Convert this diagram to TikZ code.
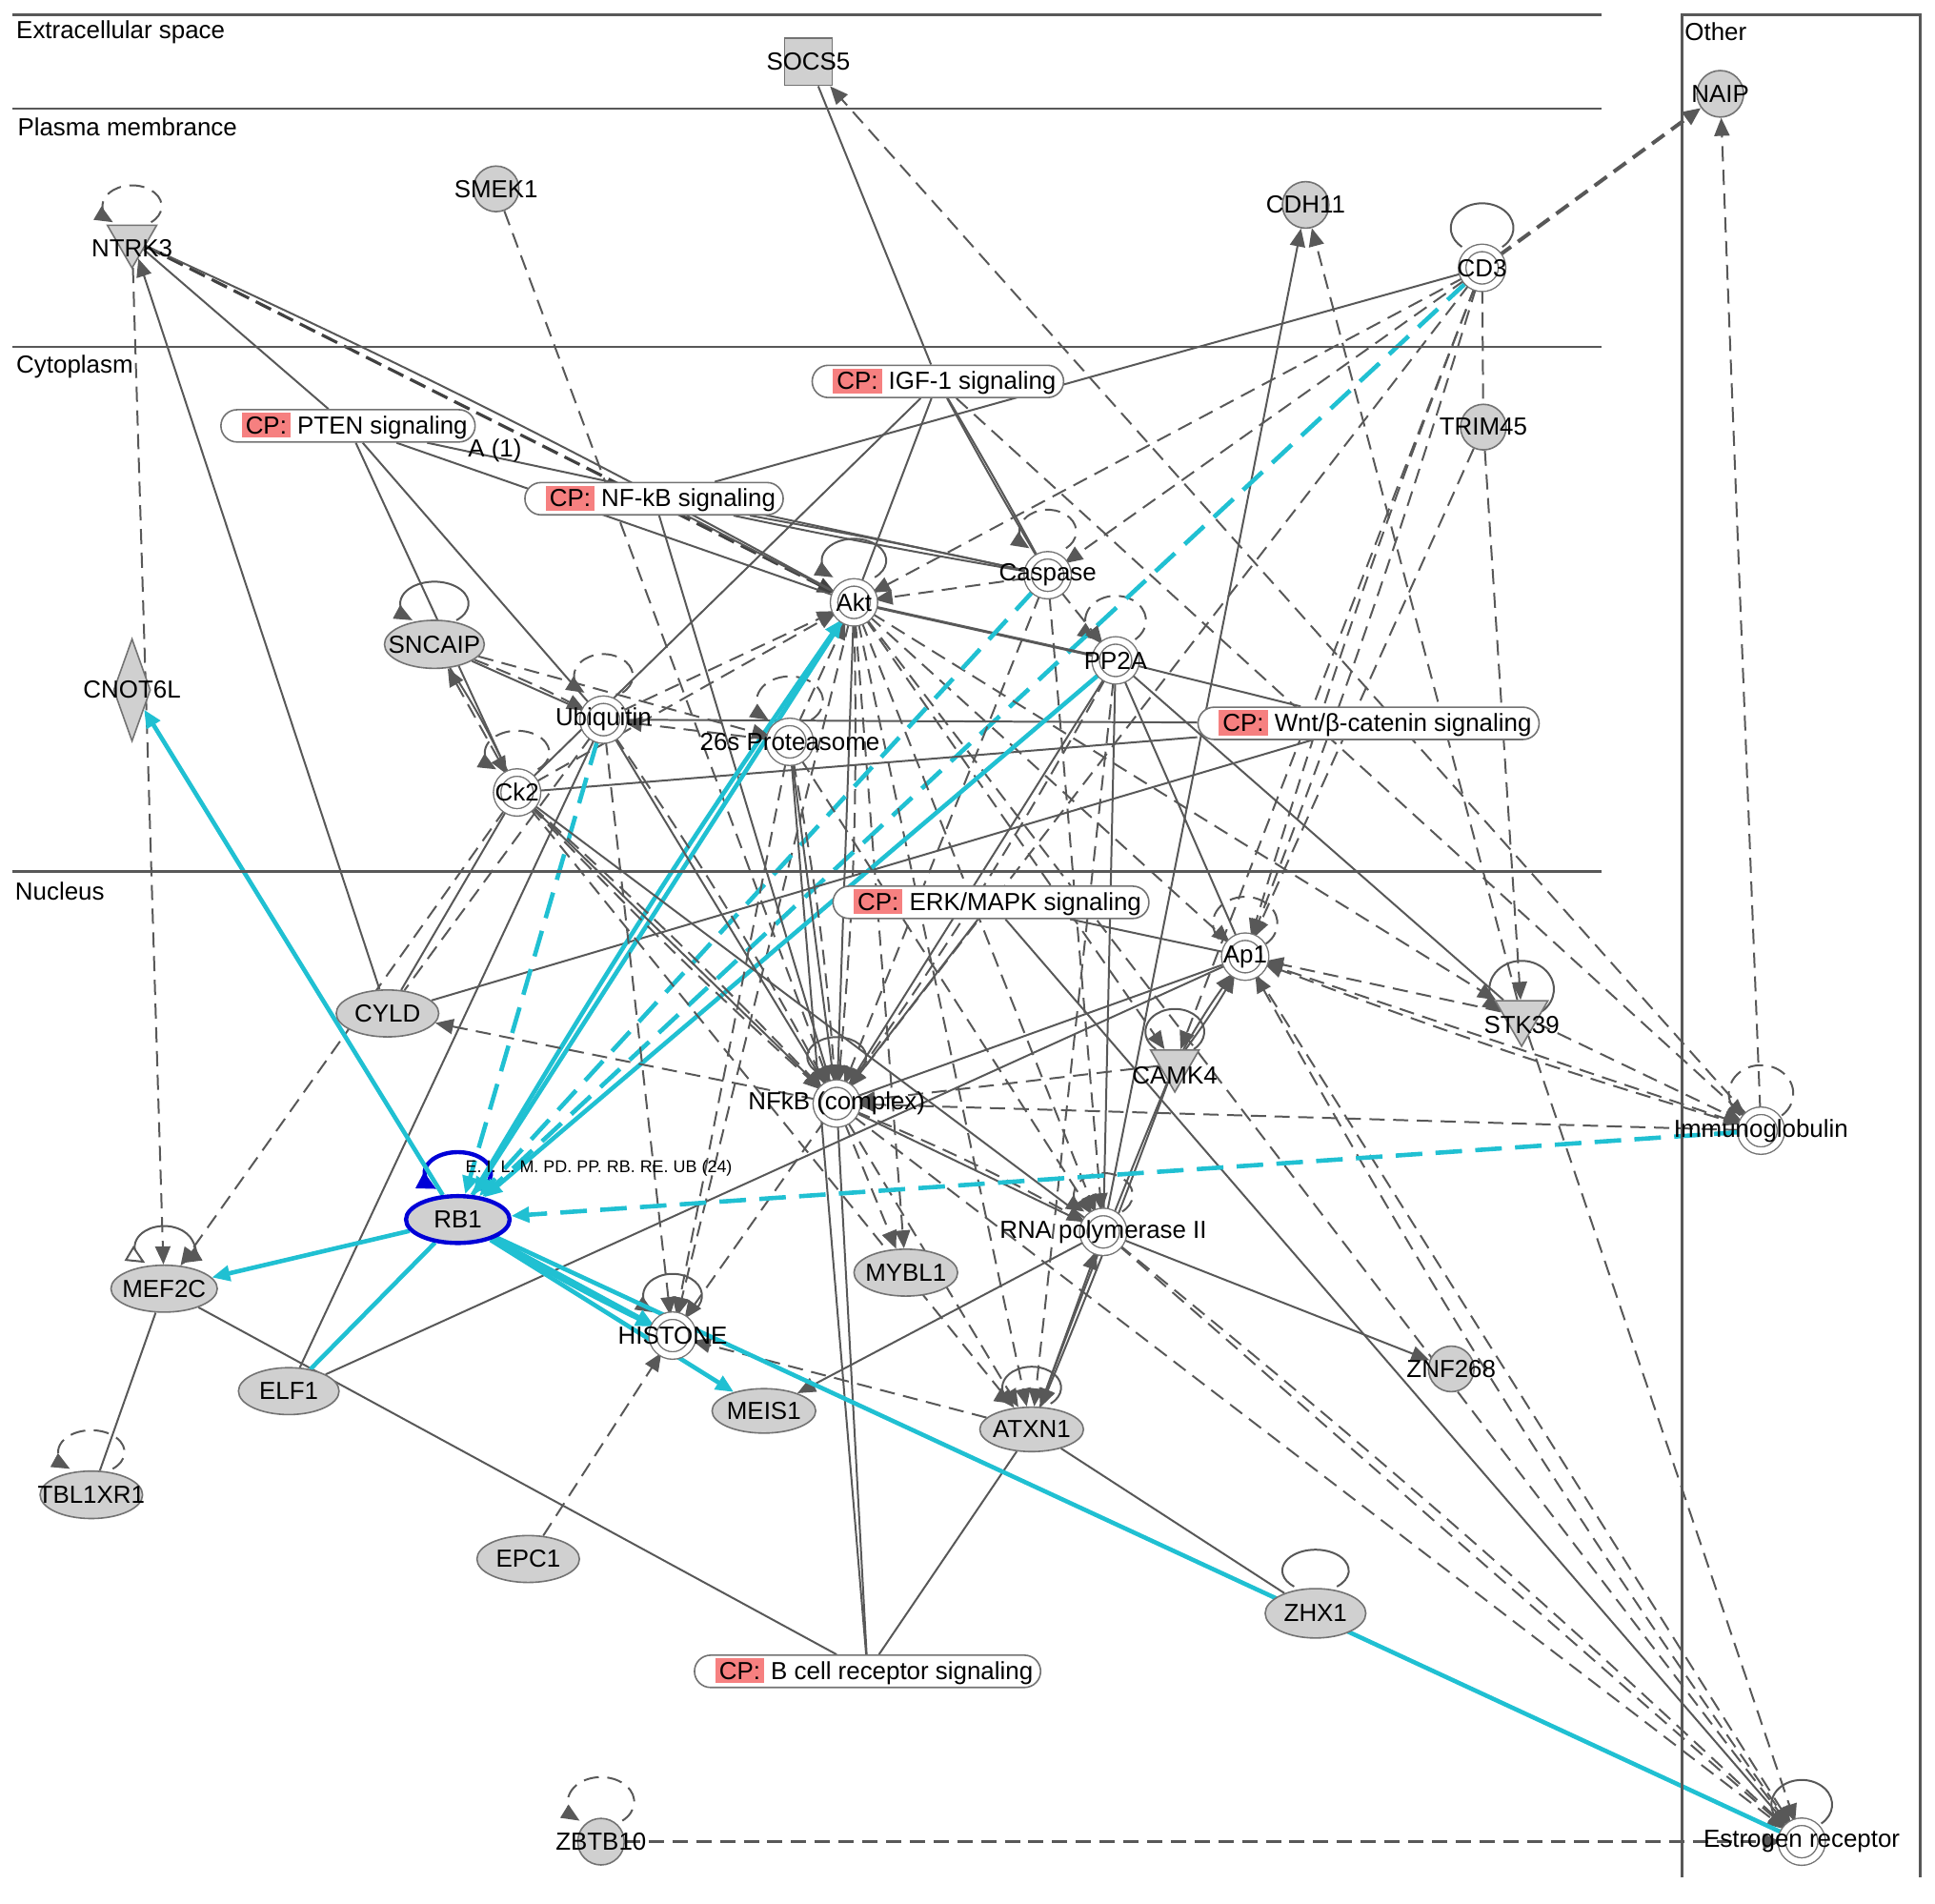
\documentclass[tikz,border=0pt]{standalone}
\usepackage{fontspec}
\setmainfont{Liberation Sans}
\usetikzlibrary{arrows.meta,shapes.geometric}

\definecolor{edgegray}{RGB}{88,88,88}
\definecolor{nodegray}{RGB}{208,208,208}
\definecolor{bordergray}{RGB}{115,115,115}
\definecolor{cyanline}{RGB}{32,192,210}
\definecolor{cpred}{RGB}{246,128,128}
\definecolor{rbblue}{RGB}{0,0,215}

\pgfdeclarelayer{edges}
\pgfsetlayers{edges,main}

\newcommand{\cpbox}{{\setlength{\fboxsep}{2pt}\colorbox{cpred}{CP:}}}
% self loop above a node: [style]{node}{lift}{x radius}{y radius}
\newcommand{\nodeloop}[5][ln]{%
  \draw[#1] ([yshift=#3]#2.center) ++(-50:#4 and #5)
    arc[start angle=-50, end angle=230, x radius=#4, y radius=#5];}

\begin{document}
\begin{tikzpicture}[x=0.65pt, y=-0.65pt, font=\fontsize{13}{15}\selectfont,
    ln/.style={draw=edgegray, line width=1pt},
    dsh/.style={draw=edgegray, line width=1pt, dash pattern=on 8pt off 4.5pt},
    arr/.style={-{Triangle[length=9.5pt,width=8pt]}},
    tarr/.style={{Triangle[length=9.5pt,width=8pt]}-{Triangle[length=9.5pt,width=8pt]}},
    cy/.style={draw=cyanline, line width=2.3pt},
    cyd/.style={draw=cyanline, line width=2.3pt, dash pattern=on 14pt off 7pt},
    gene/.style={ellipse, draw=bordergray, fill=nodegray, line width=0.8pt, inner sep=0pt},
    dot/.style={circle, draw=bordergray, fill=nodegray, line width=0.8pt, inner sep=0pt, minimum size=24.5pt},
    cplx/.style={circle, draw=bordergray, line width=0.7pt, double=white, double distance=3.2pt, fill=white, inner sep=0pt, minimum size=21pt},
    tri/.style={regular polygon, regular polygon sides=3, shape border rotate=180, draw=bordergray, fill=nodegray, line width=0.8pt, inner sep=0pt},
    pill/.style={rectangle, rounded corners=8.5pt, draw=bordergray, line width=0.8pt, fill=white, minimum height=17pt, inner xsep=4pt, inner ysep=0pt},
    partline/.style={draw=edgegray, line width=1.1pt},
    comp/.style={anchor=west, inner sep=0pt},
    mefloop/.style={ln, {Triangle[length=9.5pt,width=8pt]}-{Triangle[open,length=10pt,width=9pt,fill=white]}},
  ]
  \useasboundingbox (0,0) rectangle (1568,1542);

  % Compartments
  \draw[partline] (10,12) -- (1298,12);
  \draw[partline] (10,88) -- (1298,88);
  \draw[partline] (10,281) -- (1298,281);
  \draw[partline] (10,706) -- (1298,706);
  \draw[partline] (1363,1521) -- (1363,12) -- (1556,12) -- (1556,1521);
  \node[comp] (extra) at (13,26) {Extracellular space};
  \node[comp] (plasma) at (14,103) {Plasma membrance};
  \node[comp] (cyto) at (13,297) {Cytoplasm};
  \node[comp] (nucl) at (12,722) {Nucleus};
  \node[comp] (other) at (1365,26) {Other};

  % Extracellular space, plasma membrane, other
  \node[rectangle, draw=bordergray, fill=nodegray, line width=0.8pt, minimum size=25pt, label=center:SOCS5] (SOCS5) at (655,50) {};
  \node[dot, label=center:NAIP] (NAIP) at (1394,76) {};
  \node[dot, minimum size=24pt, label=center:SMEK1] (SMEK1) at (402,153) {};
  \node[tri, minimum size=30pt, label={[yshift=-4.5pt]center:NTRK3}] (NTRK3) at (107,194) {};
  \node[dot, label=center:CDH11] (CDH11) at (1058,166) {};
  \node[cplx, label=center:CD3] (CD3) at (1201,217) {};
  \node[cplx, label=center:Immunoglobulin] (Immuno) at (1427,916) {};
  \node[cplx, label=center:Estrogen receptor] (ER) at (1460,1492) {};

  % Cytoplasm
  \node[dot, minimum size=24pt, label=center:TRIM45] (TRIM45) at (1202,346) {};
  \node[pill] (PTENp) at (282,345) {\hspace{7pt}\cpbox\ PTEN signaling};
  \node[pill] (IGFp) at (760,309) {\hspace{7pt}\cpbox\ IGF-1 signaling};
  \node[pill] (NFkBp) at (530,404) {\hspace{7pt}\cpbox\ NF-kB signaling};
  \node[pill] (Wntp) at (1109,586) {\hspace{7pt}\cpbox\ Wnt/β-catenin signaling};
  \node (aone) at (401,365) {A (1)};
  \node[cplx, label=center:Akt] (Akt) at (692,488) {};
  \node[cplx, label=center:Caspase] (Caspase) at (849,466) {};
  \node[cplx, label=center:PP2A] (PP2A) at (904,535) {};
  \node[cplx, label=center:Ubiquitin] (Ubiquitin) at (489,583) {};
  \node[cplx, label=center:26s Proteasome] (Prot) at (640,601) {};
  \node[cplx, label=center:Ck2] (Ck2) at (419,642) {};
  \node[gene, minimum width=52.6pt, minimum height=25.3pt, label=center:SNCAIP] (SNCAIP) at (352,522) {};
  \node[diamond, draw=bordergray, fill=nodegray, line width=0.8pt, inner sep=0pt, minimum width=19.5pt, minimum height=54pt, label=center:CNOT6L] (CNOT6L) at (107,559) {};

  % Nucleus
  \node[pill] (ERKp) at (803,731) {\hspace{7pt}\cpbox\ ERK/MAPK signaling};
  \node[pill] (BCRp) at (703,1354) {\hspace{7pt}\cpbox\ B cell receptor signaling};
  \node[cplx, label=center:NFkB (complex)] (NFkB) at (678,894) {};
  \node[cplx, label=center:Ap1] (Ap1) at (1009,775) {};
  \node[tri, minimum size=29.5pt, label={[yshift=-6pt]center:CAMK4}] (CAMK4) at (952,862) {};
  \node[tri, minimum size=32pt, label={[yshift=-5pt]center:STK39}] (STK39) at (1233,823) {};
  \node[cplx, label=center:RNA polymerase II] (RNApol) at (894,998) {};
  \node[gene, minimum width=54pt, minimum height=24.7pt, label=center:CYLD] (CYLD) at (314,821) {};
  \node[gene, draw=rbblue, line width=2.2pt, minimum width=54.6pt, minimum height=24.7pt, label=center:RB1] (RB1) at (371,988) {};
  \node[anchor=west, font=\fontsize{9}{10}\selectfont, inner sep=0pt] (rbnote) at (377,946) {E. I. L. M. PD. PP. RB. RE. UB (24)};
  \node[gene, minimum width=56pt, minimum height=24.7pt, label=center:MEF2C] (MEF2C) at (133,1044) {};
  \node[gene, minimum width=53pt, minimum height=24.7pt, label=center:ELF1] (ELF1) at (234,1127) {};
  \node[gene, minimum width=54pt, minimum height=25pt, label=center:TBL1XR1] (TBL1XR1) at (74,1211) {};
  \node[gene, minimum width=54.6pt, minimum height=24.7pt, label=center:MYBL1] (MYBL1) at (734,1031) {};
  \node[cplx, label=center:HISTONE] (HISTONE) at (545,1082) {};
  \node[gene, minimum width=54.6pt, minimum height=23.4pt, label=center:MEIS1] (MEIS1) at (619,1143) {};
  \node[gene, minimum width=54.6pt, minimum height=23.4pt, label=center:ATXN1] (ATXN1) at (836,1158) {};
  \node[dot, minimum size=24pt, label=center:ZNF268] (ZNF268) at (1176,1109) {};
  \node[gene, minimum width=54pt, minimum height=24.7pt, label=center:EPC1] (EPC1) at (428,1263) {};
  \node[gene, minimum width=53pt, minimum height=26pt, label=center:ZHX1] (ZHX1) at (1066,1307) {};
  \node[dot, label=center:ZBTB10] (ZBTB10) at (487,1492) {};

  \begin{pgfonlayer}{edges}
    \fill[white] (0,0) rectangle (1568,1542);

    % self loops
    \nodeloop[dsh,arr]{NTRK3}{17.5pt}{15.6pt}{11pt}
    \nodeloop[ln]{CD3}{21pt}{16.5pt}{13pt}
    \nodeloop[ln,arr]{Akt}{22pt}{17pt}{11.5pt}
    \nodeloop[dsh,arr]{Caspase}{23pt}{15pt}{11.5pt}
    \nodeloop[dsh,arr]{PP2A}{21pt}{16pt}{13pt}
    \nodeloop[dsh,arr]{Prot}{21.5pt}{17.5pt}{13pt}
    \nodeloop[dsh,arr]{Ubiquitin}{23pt}{15.5pt}{11.5pt}
    \nodeloop[dsh,arr]{Ck2}{21pt}{17pt}{11.5pt}
    \nodeloop[ln,arr]{SNCAIP}{21.5pt}{18pt}{11.5pt}
    \nodeloop[ln]{NFkB}{24.5pt}{15.5pt}{10.5pt}
    \nodeloop[ln]{CAMK4}{17pt}{15.5pt}{12pt}
    \nodeloop[ln,arr]{STK39}{14pt}{17pt}{15pt}
    \nodeloop[dsh]{Ap1}{17.5pt}{17pt}{14pt}
    \nodeloop[dsh]{Immuno}{19.5pt}{17pt}{15pt}
    \nodeloop[dsh,arr]{RNApol}{19.5pt}{15.5pt}{11.5pt}
    \nodeloop[ln,arr]{HISTONE}{21pt}{15.5pt}{11.5pt}
    \nodeloop[ln,arr]{ATXN1}{22pt}{15.5pt}{11pt}
    \nodeloop[ln]{ZHX1}{22.5pt}{17.5pt}{11pt}
    \nodeloop[ln]{ER}{19.5pt}{16pt}{13pt}
    \nodeloop[mefloop]{MEF2C}{22pt}{15.5pt}{11pt}
    \nodeloop[dsh,arr]{TBL1XR1}{22.5pt}{17.5pt}{11.5pt}
    \nodeloop[dsh,arr]{ZBTB10}{21pt}{17.5pt}{13pt}
    \nodeloop[draw=rbblue, line width=2.2pt, -{Triangle[length=10pt,width=9pt]}]{RB1}{24.5pt}{17.5pt}{11pt}

    % membrane and extracellular links
    \draw[ln] (SOCS5) -- (IGFp);
    \draw[dsh,arr] (Immuno) -- (SOCS5);
    \draw[ln,arr] (RNApol) -- (CDH11);
    \draw[dsh,arr] (STK39) -- (CDH11);
    \draw[dsh,arr,line width=2pt] (CD3) -- (NAIP);
    \draw[dsh,arr] (Immuno) -- (NAIP);
    \draw[ln] (CD3) -- (NFkBp);
    \draw[cyd,arr] (CD3) -- (RB1);
    \draw[dsh,arr] (CD3) -- (Akt);
    \draw[dsh,arr] (CD3) -- (Caspase);
    \draw[dsh,arr] (CD3) -- (NFkB);
    \draw[dsh,arr] (CD3) to[bend left=2] (Ap1);
    \draw[dsh,arr] (CD3) to[bend right=2] (Ap1);
    \draw[dsh] (CD3) -- (TRIM45);
    \draw[dsh,arr] (CD3) -- (CAMK4);
    \draw[dsh,arr] (SMEK1) -- (NFkB);
    \draw[ln,arr] (CYLD) -- (NTRK3);
    \draw[dsh,arr] (NTRK3) -- (MEF2C);
    \draw[draw=black!75, line width=1.6pt, dash pattern=on 9pt off 4pt, arr] (NTRK3) -- (Akt);
    \draw[ln] (NTRK3) to[bend left=2] (Akt);
    \draw[ln] (NTRK3) -- (PTENp);
    \draw[dsh,arr] (TRIM45) -- (STK39);
    \draw[dsh,arr] (TRIM45) -- (Ap1);

    % canonical pathways
    \draw[ln] (PTENp) -- (Akt);
    \draw[ln] (PTENp) -- (Ubiquitin);
    \draw[ln] (PTENp) -- (Ck2);
    \draw[ln] (PTENp) -- (Caspase);
    \draw[ln] (IGFp) -- (Akt);
    \draw[ln] (IGFp) -- (Ck2);
    \draw[ln] (IGFp) to[bend left=1] (Caspase);
    \draw[ln] (IGFp) to[bend right=1] (Caspase);
    \draw[dsh,arr] (IGFp) -- (Immuno);
    \draw[ln] (NFkBp) to[bend left=1] (Caspase);
    \draw[ln] (NFkBp) to[bend right=1] (Caspase);
    \draw[ln] (NFkBp) -- (Akt);
    \draw[ln] (NFkBp) -- (NFkB);
    \draw[ln] (Wntp) -- (PP2A);
    \draw[ln] (Wntp) -- (Ubiquitin);
    \draw[ln] (Wntp) -- (Ck2);
    \draw[ln] (Wntp) -- (CYLD);
    \draw[ln] (ERKp) -- (Ap1);
    \draw[ln] (ERKp) -- (ER);
    \draw[ln] (ERKp) -- (NFkB);
    \draw[ln] (BCRp) -- (NFkB);
    \draw[ln] (BCRp) -- (Prot);
    \draw[ln] (BCRp) -- (ATXN1);
    \draw[ln] (BCRp) -- (MEF2C);

    % Akt
    \draw[dsh,arr] (Caspase) -- (Akt);
    \draw[ln, line width=1.5pt] (Akt) -- (PP2A);
    \draw[dsh,arr] (Ubiquitin) -- (Akt);
    \draw[dsh,arr] (Ck2) -- (Akt);
    \draw[dsh,arr] (Prot) -- (Akt);
    \draw[ln] (Akt) -- (NFkB);
    \draw[dsh,arr] (Akt) to[bend left=3] (NFkB);
    \draw[dsh,arr] (Akt) -- (Ap1);
    \draw[dsh,arr] (Akt) -- (CAMK4);
    \draw[dsh,arr] (Akt) -- (RNApol);
    \draw[dsh,arr] (Akt) -- (HISTONE);
    \draw[dsh,arr] (Akt) -- (ATXN1);
    \draw[dsh,arr] (Akt) -- (MYBL1);
    \draw[dsh,arr] (Akt) -- (STK39);
    \draw[dsh,arr] (Akt) -- (ER);
    \draw[cy,arr] (Akt) -- (RB1);
    \draw[cy,arr] (RB1) to[bend left=2] (Akt);

    % Caspase and PP2A
    \draw[dsh,arr] (Caspase) -- (PP2A);
    \draw[dsh,arr] (Caspase) -- (NFkB);
    \draw[dsh,arr] (Caspase) -- (RNApol);
    \draw[cyd,arr] (Caspase) -- (RB1);
    \draw[ln] (PP2A) -- (NFkB);
    \draw[dsh,arr] (PP2A) to[bend left=3] (NFkB);
    \draw[ln] (PP2A) -- (Ap1);
    \draw[ln] (PP2A) -- (RNApol);
    \draw[ln] (PP2A) -- (STK39);
    \draw[dsh,arr] (PP2A) -- (ATXN1);
    \draw[cy,arr] (PP2A) -- (RB1);

    % Ubiquitin, 26s Proteasome, Ck2, SNCAIP
    \draw[ln] (SNCAIP) -- (Ubiquitin);
    \draw[dsh,arr] (SNCAIP) to[bend left=3] (Ubiquitin);
    \draw[dsh,arr] (SNCAIP) -- (Prot);
    \draw[dsh,tarr] (SNCAIP) -- (Ck2);
    \draw[ln] (SNCAIP) to[bend left=4] (Ck2);
    \draw[dsh,arr] (Prot) -- (Ubiquitin);
    \draw[cyd,arr] (Ubiquitin) -- (RB1);
    \draw[ln] (Ubiquitin) -- (NFkB);
    \draw[dsh,arr] (Ubiquitin) to[bend left=3] (NFkB);
    \draw[dsh,arr] (Ubiquitin) -- (HISTONE);
    \draw[dsh] (Ubiquitin) -- (CYLD);
    \draw[ln] (Ubiquitin) -- (ELF1);
    \draw[ln] (Prot) -- (NFkB);
    \draw[dsh,arr] (Prot) to[bend left=3] (NFkB);
    \draw[dsh,arr] (Prot) -- (HISTONE);
    \draw[dsh,arr] (Prot) -- (RNApol);
    \draw[ln] (Ck2) -- (NFkB);
    \draw[dsh,arr] (Ck2) to[bend left=2] (NFkB);
    \draw[dsh,arr] (Ck2) to[bend right=2] (NFkB);
    \draw[ln] (Ck2) -- (RNApol);
    \draw[dsh,arr] (Ck2) -- (ATXN1);
    \draw[dsh,arr] (Ck2) -- (MEF2C);
    \draw[ln] (Ck2) -- (CYLD);

    % Nucleus
    \draw[dsh,arr] (NFkB) -- (CYLD);
    \draw[dsh,arr] (NFkB) -- (MYBL1);
    \draw[dsh,arr] (NFkB) -- (HISTONE);
    \draw[ln] (NFkB) -- (RNApol);
    \draw[dsh,arr] (NFkB) to[bend left=3] (RNApol);
    \draw[dsh,arr] (NFkB) -- (ATXN1);
    \draw[dsh,arr] (NFkB) -- (ER);
    \draw[dsh,arr] (CAMK4) -- (NFkB);
    \draw[dsh,arr] (Immuno) -- (NFkB);
    \draw[ln] (Ap1) -- (NFkB);
    \draw[ln,arr] (CAMK4) to[bend left=3] (Ap1);
    \draw[ln,arr] (CAMK4) to[bend right=3] (Ap1);
    \draw[ln,arr] (CAMK4) to[bend left=1] (ATXN1);
    \draw[ln,arr] (CAMK4) to[bend right=1] (ATXN1);
    \draw[ln,arr] (ATXN1) -- (RNApol);
    \draw[ln,arr] (RNApol) -- (MEIS1);
    \draw[ln,arr] (RNApol) -- (ZNF268);
    \draw[dsh,arr] (RNApol) -- (ER);
    \draw[dsh,arr] (RNApol) to[bend left=2] (ER);
    \draw[dsh,arr] (Ap1) -- (ER);
    \draw[dsh,arr] (ER) to[bend left=3] (Ap1);
    \draw[dsh,arr] (STK39) -- (ER);
    \draw[dsh,arr] (Ap1) -- (Immuno);
    \draw[dsh,arr] (Immuno) to[bend left=2] (Ap1);
    \draw[dsh,arr] (STK39) -- (Immuno);
    \draw[dsh,arr] (STK39) -- (Ap1);
    \draw[dsh,arr] (ATXN1) -- (HISTONE);
    \draw[ln] (ATXN1) -- (ZHX1);
    \draw[dsh,arr] (EPC1) -- (HISTONE);
    \draw[ln] (MEF2C) -- (TBL1XR1);
    \draw[ln] (ELF1) -- (Ap1);
    \draw[cy,arr] (RB1) -- (MEF2C);
    \draw[cy,arr] (RB1) -- (CNOT6L);
    \draw[cy,arr] (RB1) -- (HISTONE);
    \draw[cy,arr] (RB1) to[bend right=2] (HISTONE);
    \draw[cy,arr] (RB1) -- (MEIS1);
    \draw[cy] (RB1) -- (ER);
    \draw[cy] (ELF1) -- (RB1);
    \draw[cyd,arr] (Immuno) -- (RB1);
    \draw[dsh,arr,line width=1.8pt] (ZBTB10) -- (ER);
  \end{pgfonlayer}
\end{tikzpicture}
\end{document}
